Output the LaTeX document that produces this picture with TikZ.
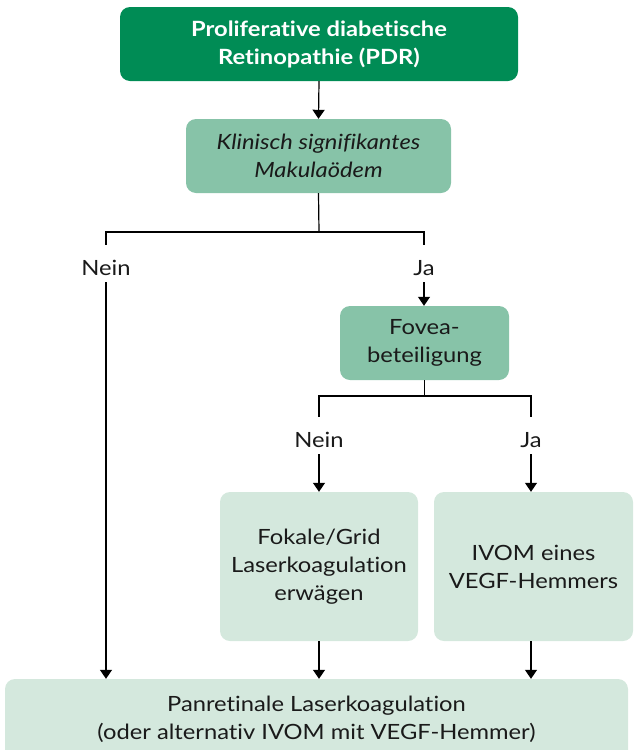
\documentclass[tikz,border=0pt]{standalone}
\usepackage{fontspec}
\setmainfont{Lato}[FakeStretch=1.13,Ligatures=NoCommon]
\usetikzlibrary{arrows.meta}
\definecolor{dkgreen}{HTML}{008C55}
\definecolor{mdgreen}{HTML}{87C3A8}
\definecolor{ltgreen}{HTML}{D4E8DD}
\definecolor{txt}{HTML}{1A1A1A}
\begin{document}
\begin{tikzpicture}[x=1pt,y=-1pt,
  every node/.style={font=\fontsize{21}{28}\selectfont, text=txt},
  box/.style={rounded corners=10pt, align=center, inner sep=0pt, draw=none},
  lbl/.style={inner sep=0pt, text height=30pt, text depth=7pt, anchor=base},
  ln/.style={line width=1.2pt, black},
  arr/.style={ln, -{Triangle[width=12pt,length=9pt]}}]
\useasboundingbox (0,0) rectangle (633,750);
\clip (0,0) rectangle (633,750);
\node[box, fill=dkgreen, minimum width=398pt, minimum height=74pt, text=white, font=\fontsize{21}{28}\selectfont\bfseries] (b1) at (319,44) {Proliferative diabetische\\Retinopathie (PDR)};
\node[box, fill=mdgreen, minimum width=265pt, minimum height=74pt, font=\fontsize{21}{28}\selectfont\itshape] (b2) at (318.5,156) {Klinisch signifikantes\\Makulaödem};
\node[box, fill=mdgreen, minimum width=169pt, minimum height=74pt] (b3) at (424.5,343) {Fovea-\\beteiligung};
\node[box, fill=ltgreen, minimum width=198pt, minimum height=149pt] (b4) at (319,566.5) {Fokale/Grid\\Laserkoagulation\\erwägen};
\node[box, fill=ltgreen, minimum width=199pt, minimum height=149pt] (b5) at (533.5,566.5) {IVOM eines\\VEGF-Hemmers};
\node[box, fill=ltgreen, minimum width=623pt, minimum height=95pt, text depth=0pt] (b6) at (316.5,726.5) {};
\node (b6t) at (316.5,719.5) [align=center, inner sep=0pt] {Panretinale Laserkoagulation\\(oder alternativ IVOM mit VEGF-Hemmer)};

\node[lbl] (n1) at (106,275) {Nein};
\node[lbl] (j1) at (424,275) {Ja};
\node[lbl] (n2) at (319,447) {Nein};
\node[lbl] (j2) at (531,447) {Ja};

\coordinate (s1) at (319,232);
\coordinate (s2) at (424.5,396);

\draw[arr] (b1.south) -- (b2.north);
\draw[ln] (b2.south) -- (s1);
\draw[ln] (n1.north) |- (s1) -| (j1.north);
\draw[arr] (j1.south) -- (b3.north -| j1.south);
\draw[arr] (n1.south) -- (b6.north -| n1.south);
\draw[ln] (b3.south) -- (s2);
\draw[ln] (n2.north) |- (s2) -| (j2.north);
\draw[arr] (n2.south) -- (b4.north -| n2.south);
\draw[arr] (j2.south) -- (b5.north -| j2.south);
\draw[arr] (b4.south) -- (b6.north -| b4.south);
\draw[arr] (b5.south -| j2.south) -- (b6.north -| j2.south);
\end{tikzpicture}
\end{document}
